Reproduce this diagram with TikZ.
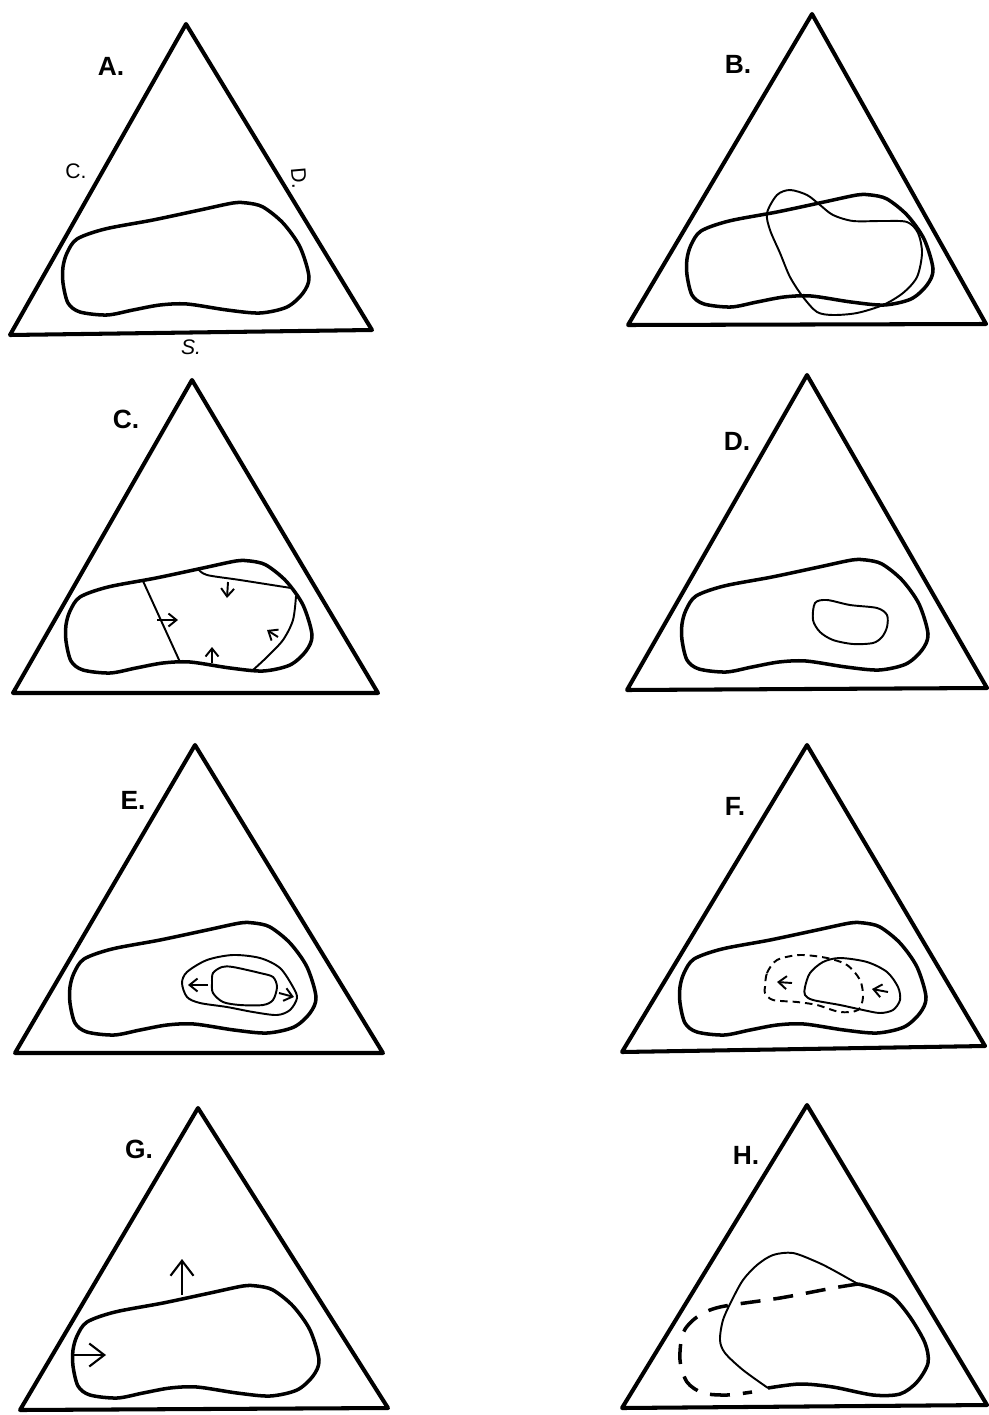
\documentclass[tikz,border=0pt]{standalone}
\usepackage{fontspec}
\setmainfont{Liberation Sans}
\usetikzlibrary{
    arrows.meta
}

\begin{document}
\begin{tikzpicture}[
        x=0.2mm,
        y=-0.2mm,
        every node/.style={
            inner sep=0pt
        },
        panel/.style={
            font=\fontsize{15pt}{18pt}\selectfont\bfseries
        },
        side/.style={
            font=\fontsize{12pt}{14pt}\selectfont
        },
        tri/.style={
            line width=2.3pt,
            line join=round
        },
        rim/.style={
            line width=2pt,
            line join=round
        },
        contour/.style={
            line width=1.1pt
        },
        ghost/.style={
            line width=1.1pt,
            dash pattern=on 1.5mm off 1mm
        },
        oldrim/.style={
            line width=2pt,
            dash pattern=on 4mm off 2.6mm
        },
        drift/.style={
            line width=1.1pt,
            -{Straight Barb[length=1.6mm,width=2.6mm]}
        },
        push/.style={
            line width=1.2pt,
            -{Straight Barb[length=3mm,width=4.6mm]}
        },
        footprint/.pic={
            \draw[rim] plot[smooth cycle] coordinates {
                (57,-82) (67,-96) (95,-106) (143,-115) (190,-125)
                (223,-132) (237,-132) (253,-128) (273,-112) (290,-88)
                (299,-58) (293,-42) (277,-28) (250,-22) (217,-25)
                (177,-31) (150,-30) (123,-25) (97,-20) (70,-23)
                (58,-32) (53,-52) (53,-68)
            };
        }
    ]

    \useasboundingbox (0,0) rectangle (988,1415);

    % A: the field and its corners
    \draw[tri] (186,24) -- (10,335) -- (372,330) -- cycle;
    \pic at (10,335) {footprint};
    \node[panel] (labA) at (111,66) {A.};
    \node[side] (labC) at (76,171) {C.};
    \node[side, rotate=-85] (labD) at (299,178) {D.};
    \node[side, font=\fontsize{12pt}{14pt}\selectfont\itshape] (labS) at (191,347) {S.};

    % B
    \draw[tri] (812,14) -- (628,325) -- (986,324) -- cycle;
    \pic at (634,327) {footprint};
    \node[panel] (labB) at (738,64) {B.};
    \begin{scope}[shift={(628,325)}]
        \draw[contour] plot[smooth cycle] coordinates {
            (139,-112) (149,-130) (162,-135) (179,-130) (192,-120)
            (205,-110) (225,-104) (255,-104) (279,-103) (290,-92)
            (294,-72) (289,-48) (275,-32) (255,-20) (229,-12)
            (205,-10) (189,-13) (175,-28) (162,-48) (152,-72)
            (142,-95)
        };
    \end{scope}

    % C
    \draw[tri] (192,380) -- (13,693) -- (378,693) -- cycle;
    \node[panel] (labCC) at (126,419) {C.};
    \begin{scope}[shift={(13,693)}]
        \pic at (0,0) {footprint};
        \draw[contour] (130,-112) -- (167,-31);
        \draw[contour] plot[smooth] coordinates {
            (185,-124) (194,-118) (227,-113) (278,-105)
        };
        \draw[contour] plot[smooth] coordinates {
            (283,-97) (280,-73) (270,-53) (254,-36) (240,-23)
        };
        \draw[drift] (144,-73) -- (165,-73);
        \draw[drift] (215,-111) -- (214,-95);
        \draw[drift] (265,-56) -- (254,-63);
        \draw[drift] (199,-30) -- (199,-46);
    \end{scope}

    % D
    \draw[tri] (807,375) -- (627,690) -- (987,688) -- cycle;
    \pic at (629,692) {footprint};
    \node[panel] (labDD) at (737,441) {D.};
    \begin{scope}[shift={(627,690)}]
        \draw[contour] plot[smooth cycle] coordinates {
            (188,-87) (200,-90) (223,-85) (250,-82) (260,-75)
            (260,-63) (255,-53) (246,-47) (226,-46) (206,-50)
            (193,-58) (186,-70)
        };
    \end{scope}

    % E
    \draw[tri] (195,745) -- (15,1053) -- (383,1053) -- cycle;
    \pic at (17,1055) {footprint};
    \node[panel] (labE) at (133,800) {E.};
    \begin{scope}[shift={(15,1053)}]
        \draw[contour] plot[smooth cycle] coordinates {
            (167,-70) (172,-81) (192,-93) (218,-98) (245,-95)
            (265,-85) (278,-66) (282,-55) (275,-43) (262,-38)
            (238,-41) (212,-46) (185,-50) (172,-56)
        };
        \draw[contour] plot[smooth cycle] coordinates {
            (198,-80) (207,-86) (218,-86) (245,-80) (258,-76)
            (262,-66) (258,-53) (248,-48) (225,-48) (208,-51)
            (198,-60) (197,-70)
        };
        \draw[drift] (193,-68) -- (173,-68);
        \draw[drift] (264,-60) -- (279,-56);
    \end{scope}

    % F
    \draw[tri] (807,745) -- (622,1052) -- (985,1046) -- cycle;
    \pic at (627,1055) {footprint};
    \node[panel] (labF) at (735,806) {F.};
    \begin{scope}[shift={(622,1052)}]
        \draw[contour] plot[smooth cycle] coordinates {
            (183,-65) (188,-79) (201,-90) (218,-94) (245,-90)
            (265,-80) (276,-65) (278,-52) (271,-42) (258,-39)
            (241,-42) (218,-47) (191,-52) (183,-57)
        };
        \draw[ghost] plot[smooth cycle] coordinates {
            (143,-65) (145,-79) (155,-92) (178,-97) (205,-94)
            (225,-87) (238,-72) (241,-55) (236,-42) (218,-40)
            (195,-47) (175,-50) (151,-52) (143,-59)
        };
        \draw[drift] (170,-69) -- (155,-70);
        \draw[drift] (266,-60) -- (250,-63);
    \end{scope}

    % G
    \draw[tri] (198,1108) -- (20,1410) -- (388,1408) -- cycle;
    \pic at (20,1418) {footprint};
    \node[panel] (labG) at (139,1149) {G.};
    \begin{scope}[shift={(20,1410)}]
        \draw[push] (162,-115) -- (162,-151);
        \draw[push] (52,-55) -- (86,-55);
    \end{scope}

    % H
    \draw[tri] (807,1105) -- (622,1408) -- (987,1405) -- cycle;
    \node[panel] (labH) at (746,1155) {H.};
    \begin{scope}[shift={(622,1408)}]
        \draw[contour] plot[smooth] coordinates {
            (236,-124) (211,-138) (195,-146) (171,-155) (151,-153)
            (135,-143) (121,-128) (110,-108) (101,-88) (98,-68)
            (103,-55) (121,-38) (146,-20)
        };
        \draw[rim] plot[smooth] coordinates {
            (146,-20) (178,-24) (211,-21) (251,-13) (278,-14)
            (295,-26) (306,-45) (303,-65) (288,-91) (271,-111)
            (251,-120) (236,-124)
        };
        \draw[oldrim] plot[smooth] coordinates {
            (236,-124) (211,-120) (158,-110) (98,-101) (75,-91)
            (61,-75) (58,-48) (65,-26) (81,-15) (105,-13)
            (130,-16)
        };
    \end{scope}

\end{tikzpicture}
\end{document}
